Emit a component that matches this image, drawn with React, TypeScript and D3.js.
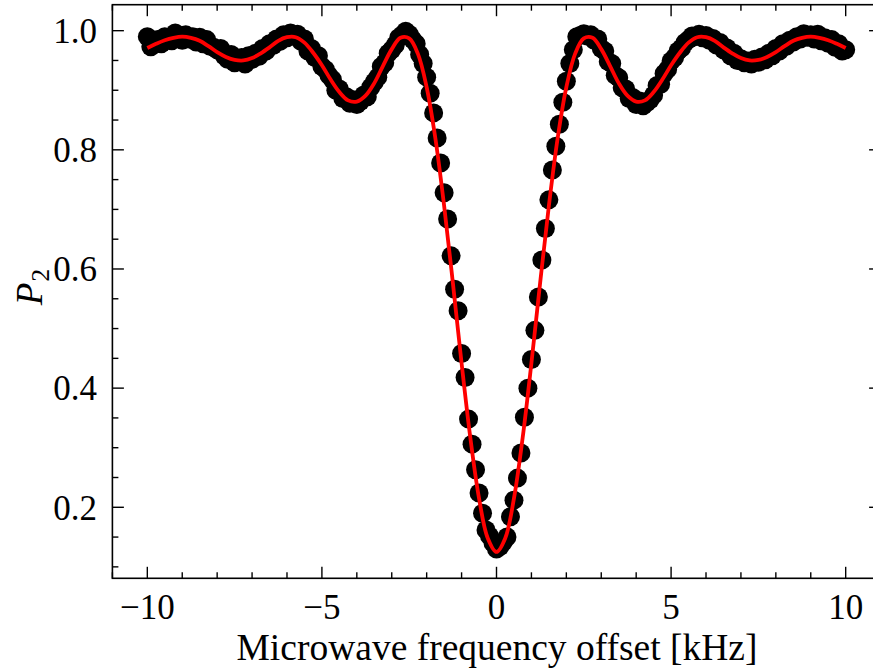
import React from "react";
import * as d3 from "d3";

const W = 873;
const H = 672;

// measured detuning grid: -10 ... 10 kHz in 0.1 kHz steps
const freqs: number[] = d3.range(-100, 101).map((i) => i / 10);
const p2Data: number[] = [
  0.990, 0.973, 0.982, 0.985, 0.978, 0.990, 0.988, 0.983, 0.996, 0.989,
  0.984, 0.993, 0.986, 0.990, 0.981, 0.989, 0.978, 0.985, 0.974, 0.972,
  0.968, 0.970, 0.958, 0.952, 0.960, 0.946, 0.950, 0.955, 0.944, 0.958,
  0.952, 0.962, 0.957, 0.970, 0.966, 0.978, 0.975, 0.986, 0.982, 0.993,
  0.988, 0.996, 0.991, 0.994, 0.982, 0.986, 0.966, 0.970, 0.955, 0.958,
  0.940, 0.935, 0.925, 0.918, 0.900, 0.902, 0.886, 0.889, 0.878, 0.884,
  0.876, 0.881, 0.892, 0.889, 0.905, 0.914, 0.922, 0.940, 0.946, 0.962,
  0.968, 0.976, 0.988, 0.993, 0.999, 0.994, 0.985, 0.978, 0.960, 0.945,
  0.922, 0.895, 0.862, 0.820, 0.778, 0.728, 0.684, 0.622, 0.566, 0.530,
  0.458, 0.418, 0.348, 0.306, 0.263, 0.224, 0.190, 0.162, 0.152, 0.140,
  0.130,
  0.134, 0.142, 0.150, 0.184, 0.212, 0.249, 0.291, 0.351, 0.400, 0.448,
  0.497, 0.553, 0.615, 0.668, 0.716, 0.766, 0.806, 0.843, 0.880, 0.915,
  0.945, 0.968, 0.990, 0.992, 0.995, 0.991, 0.993, 0.984, 0.986, 0.970,
  0.966, 0.948, 0.945, 0.925, 0.921, 0.904, 0.902, 0.886, 0.888, 0.876,
  0.882, 0.874, 0.879, 0.884, 0.892, 0.908, 0.910, 0.928, 0.935, 0.949,
  0.955, 0.966, 0.971, 0.980, 0.985, 0.991, 0.990, 0.994, 0.988, 0.992,
  0.984, 0.987, 0.976, 0.980, 0.968, 0.971, 0.958, 0.962, 0.950, 0.953,
  0.946, 0.949, 0.944, 0.952, 0.947, 0.956, 0.951, 0.962, 0.958, 0.970,
  0.966, 0.978, 0.974, 0.984, 0.981, 0.990, 0.986, 0.995, 0.989, 0.993,
  0.986, 0.994, 0.983, 0.988, 0.979, 0.985, 0.972, 0.978, 0.966, 0.968,
];

// fitted curve sampled every 0.25 kHz
const fitFreqs: number[] = d3.range(-40, 41).map((i) => i / 4);
const fitP2: number[] = [
  0.971, 0.978, 0.984, 0.988, 0.990, 0.988, 0.983, 0.974, 0.964, 0.956,
  0.951, 0.950, 0.954, 0.962, 0.972, 0.983, 0.989, 0.989, 0.980, 0.963,
  0.942, 0.918, 0.897, 0.883, 0.881, 0.891, 0.912, 0.941, 0.969, 0.988,
  0.987, 0.961, 0.905, 0.819, 0.706, 0.577, 0.442, 0.317, 0.215, 0.148,
  0.125,
  0.148, 0.215, 0.317, 0.442, 0.577, 0.706, 0.819, 0.905, 0.961, 0.987,
  0.988, 0.969, 0.941, 0.912, 0.891, 0.881, 0.883, 0.897, 0.918, 0.942,
  0.963, 0.980, 0.989, 0.989, 0.983, 0.972, 0.962, 0.954, 0.950, 0.951,
  0.956, 0.964, 0.974, 0.983, 0.988, 0.990, 0.988, 0.984, 0.978, 0.971,
];

const xMajor: number[] = [-10, -5, 0, 5, 10];
const yMajor: number[] = [0.2, 0.4, 0.6, 0.8, 1.0];

export default function App() {
  const left = 112.4, right = 880.6, top = 4.7, bottom = 578.3;
  const x = d3.scaleLinear().domain([-11, 11]).range([left, right]);
  const y = d3.scaleLinear().domain([0.0808, 1.0436]).range([bottom, top]);

  const xMinor = d3.range(-11, 12).filter((v) => !xMajor.includes(v));
  const yMinor = d3
    .range(2, 21)
    .map((i) => i * 0.05)
    .filter((v) => !yMajor.some((m) => Math.abs(m - v) < 1e-6));

  const line = d3
    .line<number>()
    .x((_, i) => x(fitFreqs[i]))
    .y((d) => y(d))
    .curve(d3.curveCatmullRom.alpha(0.5));

  const MAJ = 11.5, MIN = 6;
  const font = "'Liberation Serif', 'Times New Roman', serif";
  const fmtX = (v: number) => (v < 0 ? "\u2212" + Math.abs(v) : String(v));

  return (
    <svg
      width={W}
      height={H}
      viewBox={`0 0 ${W} ${H}`}
      style={{ position: "absolute", left: 0, top: 0, background: "#fff" }}
    >
      <rect x={0} y={0} width={W} height={H} fill="#fff" />
      <g>
        {p2Data.map((v, i) => (
          <circle key={i} cx={x(freqs[i])} cy={y(v)} r={9.5} fill="#000" />
        ))}
      </g>
      <path d={line(fitP2) || ""} fill="none" stroke="#ff0000" strokeWidth={3.8} />
      {/* ticks */}
      <g stroke="#000" strokeWidth={1.4}>
        {xMajor.map((v) => (
          <g key={"xm" + v}>
            <line x1={x(v)} x2={x(v)} y1={bottom} y2={bottom - MAJ} />
            <line x1={x(v)} x2={x(v)} y1={top} y2={top + MAJ} />
          </g>
        ))}
        {xMinor.map((v) => (
          <g key={"xn" + v}>
            <line x1={x(v)} x2={x(v)} y1={bottom} y2={bottom - MIN} />
            <line x1={x(v)} x2={x(v)} y1={top} y2={top + MIN} />
          </g>
        ))}
        {yMajor.map((v) => (
          <g key={"ym" + v}>
            <line x1={left} x2={left + MAJ} y1={y(v)} y2={y(v)} />
            <line x1={right} x2={right - MAJ} y1={y(v)} y2={y(v)} />
          </g>
        ))}
        {yMinor.map((v) => (
          <g key={"yn" + v}>
            <line x1={left} x2={left + MIN} y1={y(v)} y2={y(v)} />
            <line x1={right} x2={right - MIN} y1={y(v)} y2={y(v)} />
          </g>
        ))}
      </g>
      <rect
        x={left}
        y={top}
        width={right - left}
        height={bottom - top}
        fill="none"
        stroke="#000"
        strokeWidth={1.6}
      />
      {/* tick labels */}
      <g fontFamily={font} fontSize={35} fill="#000">
        {xMajor.map((v) => (
          <text key={"xl" + v} x={x(v)} y={619} textAnchor="middle">
            {fmtX(v)}
          </text>
        ))}
        {yMajor.map((v) => (
          <text key={"yl" + v} x={97} y={y(v)} dy="0.35em" textAnchor="end">
            {v.toFixed(1)}
          </text>
        ))}
      </g>
      <text x={497} y={660} textAnchor="middle" fontFamily={font} fontSize={37.5} fill="#000">
        Microwave frequency offset [kHz]
      </text>
      <text
        transform={`translate(42, 287) rotate(-90)`}
        textAnchor="middle"
        fontFamily={font}
        fontSize={37}
        fill="#000"
      >
        <tspan fontStyle="italic">P</tspan>
        <tspan fontSize={26} dx={1} dy={7}>2</tspan>
      </text>
    </svg>
  );
}
